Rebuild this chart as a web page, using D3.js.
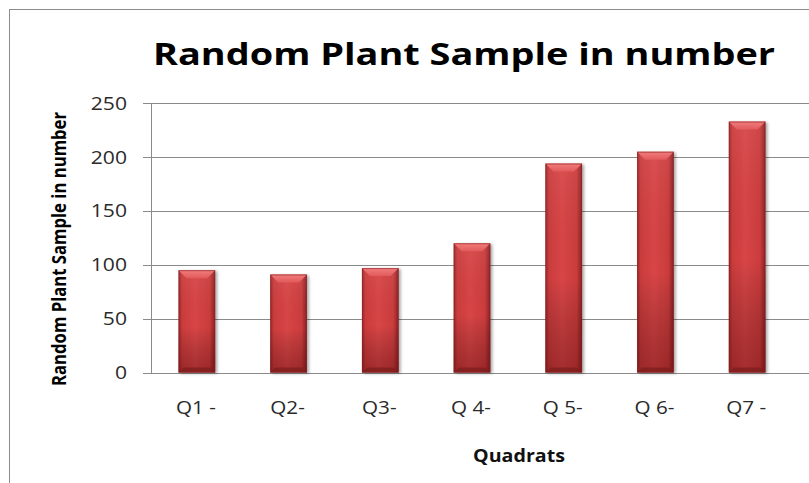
<!DOCTYPE html>
<html>
<head>
<meta charset="utf-8">
<script src="https://cdn.jsdelivr.net/npm/d3@7"></script>
<style>
  html, body { margin: 0; padding: 0; background: #fff; }
  svg { display: block; font-family: "Open Sans", sans-serif; }
</style>
</head>
<body>
<svg id="chart" width="809" height="483"></svg>
<script>
// quadrat counts
var categories = ['Q1 -', 'Q2-', 'Q3-', 'Q 4-', 'Q 5-', 'Q 6-', 'Q7 -']
var values = [95, 91, 97, 120, 194, 205, 233]
var yTicks = [0, 50, 100, 150, 200, 250]

var chartTitle = 'Random Plant Sample in number'
var yTitle = 'Random Plant Sample in number'
var xTitle = 'Quadrats'

var svg = d3.select('#chart')
var W = 809, H = 483
// plot area (the chart is cut off on the right, like the picture)
var plot = {left: 151, right: 793, top: 103.3, bottom: 372.5}

var x = d3.scaleBand().domain(categories).range([plot.left, plot.right])
  .paddingInner(0.6).paddingOuter(0.3)
var y = d3.scaleLinear().domain([0, 250]).range([plot.bottom, plot.top])

// glyphs in the picture are a bit wider than Open Sans
function widen(sel, k){
  sel.each(function(){
    var w = this.getComputedTextLength()
    d3.select(this).attr('textLength', w * k).attr('lengthAdjust', 'spacingAndGlyphs')
  })
}

// ---- defs: bar shading ----
var defs = svg.append('defs')
var gH = defs.append('linearGradient').attr('id', 'barH').attr('x1', 0).attr('x2', 1).attr('y1', 0).attr('y2', 0)
;[[0, '#9a2627'], [0.1, '#cb3c3d'], [0.45, '#d84546'], [0.85, '#cb3c3d'], [1, '#8a2122']].forEach(function(s){
  gH.append('stop').attr('offset', s[0]).attr('stop-color', s[1])
})
var gV = defs.append('linearGradient').attr('id', 'barV').attr('x1', 0).attr('x2', 0).attr('y1', 0).attr('y2', 1)
;[[0, 'rgba(255,255,255,0.06)'], [0.55, 'rgba(0,0,0,0)'], [1, 'rgba(70,0,0,0.35)']].forEach(function(s){
  gV.append('stop').attr('offset', s[0]).attr('stop-color', s[1])
})
var gTop = defs.append('linearGradient').attr('id', 'barTop').attr('x1', 0).attr('x2', 0).attr('y1', 0).attr('y2', 1)
gTop.append('stop').attr('offset', 0).attr('stop-color', '#f27d7d')
gTop.append('stop').attr('offset', 1).attr('stop-color', '#e15a5b')
var shadow = defs.append('filter').attr('id', 'shadow').attr('x', '-20%').attr('y', '-5%').attr('width', '150%').attr('height', '115%')
shadow.append('feDropShadow').attr('dx', 2).attr('dy', 1).attr('stdDeviation', 1.6)
  .attr('flood-color', '#000').attr('flood-opacity', 0.35)

// ---- outer chart border ----
svg.append('rect')
  .attr('x', 9.5).attr('y', 9.5).attr('width', 900).attr('height', 600)
  .attr('fill', 'none').attr('stroke', '#8c8c8c').attr('stroke-width', 1)

// ---- gridlines + tick marks ----
svg.append('g').selectAll('line').data(yTicks).join('line')
  .attr('x1', plot.left - 8).attr('x2', W)
  .attr('y1', function(d){ return Math.round(y(d)) + 0.5 })
  .attr('y2', function(d){ return Math.round(y(d)) + 0.5 })
  .attr('stroke', '#8a8a8a').attr('stroke-width', 1)

// y axis line
svg.append('line')
  .attr('x1', plot.left + 0.5).attr('x2', plot.left + 0.5)
  .attr('y1', Math.round(y(250))).attr('y2', Math.round(y(0)) + 1)
  .attr('stroke', '#8a8a8a')

// ---- bars ----
var bars = svg.append('g').selectAll('g').data(values).join('g')
  .attr('transform', function(d, i){ return 'translate(' + x(categories[i]) + ',0)' })
var bw = x.bandwidth()
bars.append('rect')
  .attr('y', function(d){ return y(d) }).attr('width', bw)
  .attr('height', function(d){ return y(0) - y(d) })
  .attr('fill', 'url(#barH)').attr('filter', 'url(#shadow)')
bars.append('rect')
  .attr('y', function(d){ return y(d) }).attr('width', bw)
  .attr('height', function(d){ return y(0) - y(d) })
  .attr('fill', 'url(#barV)')
// top bevel
bars.append('path')
  .attr('d', function(d){
    var t = y(d), b = 8, s = 8
    return 'M0,' + t + 'H' + bw + 'L' + (bw - s) + ',' + (t + b) + 'H' + s + 'Z'
  })
  .attr('fill', 'url(#barTop)')
// bottom bevel
bars.append('path')
  .attr('d', function(d){
    var bt = y(0), b = 5, s = 5
    return 'M0,' + bt + 'H' + bw + 'L' + (bw - s) + ',' + (bt - b) + 'H' + s + 'Z'
  })
  .attr('fill', '#7a1c1d').attr('opacity', 0.7)
// thin dark outline on the sides
bars.append('rect')
  .attr('x', 0.5).attr('y', function(d){ return y(d) + 0.5 }).attr('width', bw - 1)
  .attr('height', function(d){ return y(0) - y(d) - 1 })
  .attr('fill', 'none').attr('stroke', '#8a2324').attr('stroke-opacity', 0.6)

// ---- y tick labels ----
svg.append('g').selectAll('text').data(yTicks).join('text')
  .attr('x', 127).attr('y', function(d){ return y(d) + 6.5 })
  .attr('text-anchor', 'end').attr('font-size', 18.5).attr('fill', '#2a2a2a')
  .text(function(d){ return d })
  .call(widen, 1.14)

// ---- x tick labels ----
svg.append('g').selectAll('text').data(categories).join('text')
  .attr('x', function(d){ return x(d) + bw / 2 - 1 }).attr('y', 414)
  .attr('text-anchor', 'middle').attr('font-size', 17.5).attr('fill', '#2a2a2a')
  .text(function(d){ return d })
  .call(widen, 1.18)

// ---- titles ----
svg.append('text')
  .attr('x', 464).attr('y', 65).attr('text-anchor', 'middle')
  .attr('font-size', 31).attr('font-weight', 700).attr('fill', '#000')
  .attr('textLength', 622).attr('lengthAdjust', 'spacingAndGlyphs')
  .text(chartTitle)

svg.append('text')
  .attr('transform', 'translate(66,249) rotate(-90)').attr('text-anchor', 'middle')
  .attr('font-size', 19).attr('font-weight', 700).attr('fill', '#000')
  .attr('textLength', 274).attr('lengthAdjust', 'spacingAndGlyphs')
  .text(yTitle)

svg.append('text')
  .attr('x', 519).attr('y', 461.5).attr('text-anchor', 'middle')
  .attr('font-size', 18).attr('font-weight', 700).attr('fill', '#111')
  .attr('textLength', 92).attr('lengthAdjust', 'spacingAndGlyphs')
  .text(xTitle)
</script>
</body>
</html>
